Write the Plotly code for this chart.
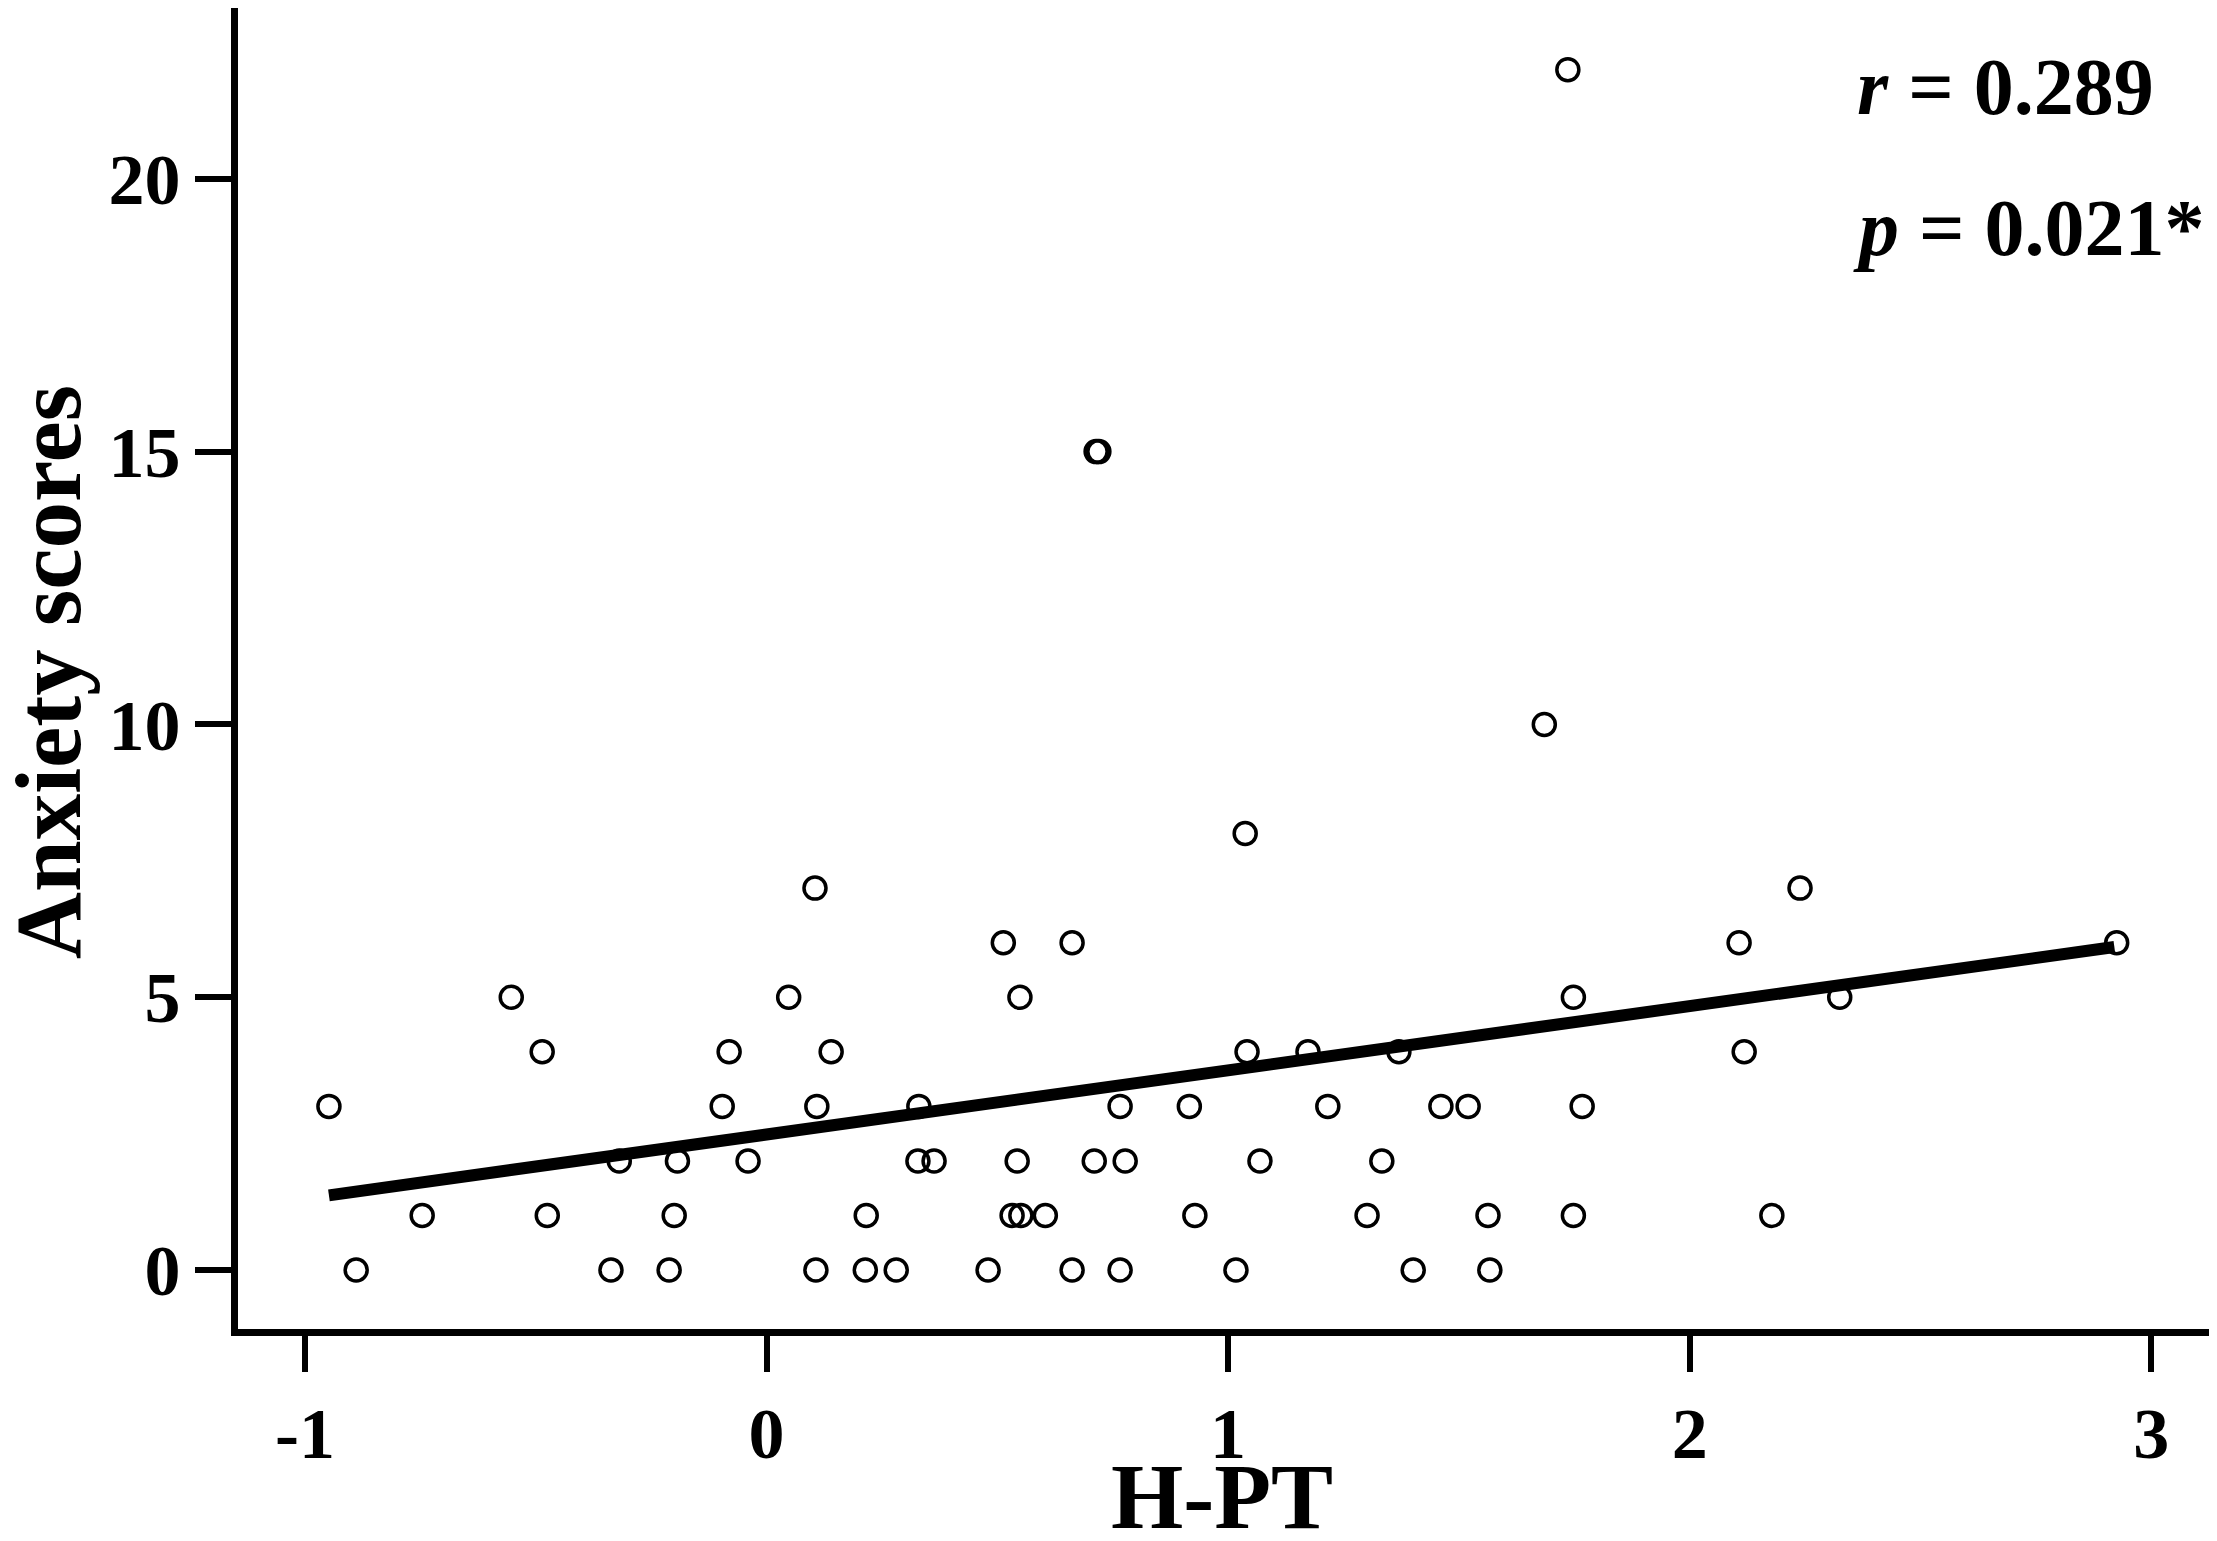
import plotly.graph_objects as go

# H-PT values grouped by their (integer) anxiety score
hpt_0 = [-0.889, -0.337, -0.211, 0.107, 0.214, 0.281, 0.480, 0.662, 0.766, 1.017, 1.401, 1.567]
hpt_1 = [-0.746, -0.475, -0.200, 0.216, 0.532, 0.551, 0.604, 0.928, 1.301, 1.563, 1.748, 2.178]
hpt_2 = [-0.319, -0.193, -0.040, 0.328, 0.363, 0.543, 0.710, 0.777, 1.069, 1.333]
hpt_3 = [-0.948, -0.096, 0.109, 0.330, 0.766, 0.916, 1.216, 1.461, 1.520, 1.767]
hpt_4 = [-0.486, -0.081, 0.140, 1.041, 1.173, 1.370, 2.118]
hpt_5 = [-0.553, 0.048, 0.549, 1.748, 2.325]
hpt_6 = [0.513, 0.662, 2.107, 2.925]
hpt_7 = [0.105, 2.239]
hpt_8 = [1.037]
hpt_10 = [1.685]
hpt_15 = [0.714, 0.720]
hpt_22 = [1.736]

groups = {0: hpt_0, 1: hpt_1, 2: hpt_2, 3: hpt_3, 4: hpt_4, 5: hpt_5,
          6: hpt_6, 7: hpt_7, 8: hpt_8, 10: hpt_10, 15: hpt_15, 22: hpt_22}

# regression line, end points
fit_x = [-0.948, 2.920]
fit_y = [1.37, 5.92]

x_ticks = [-1, 0, 1, 2, 3]
y_ticks = [0, 5, 10, 15, 20]

xs = []
ys = []
for score, vals in groups.items():
  for v in vals:
    xs.append(v)
    ys.append(score)

serif = "Times New Roman, Liberation Serif, serif"
title_font = dict(family=serif, size=93, color="black", weight="bold")

fig = go.Figure()
fig.add_trace(go.Scatter(x=xs, y=ys, mode="markers",
                         marker=dict(symbol="circle-open", size=22, color="black",
                                     line=dict(width=3.5, color="black")),
                         showlegend=False))
fig.add_trace(go.Scatter(x=fit_x, y=fit_y, mode="lines",
                         line=dict(color="black", width=12),
                         showlegend=False))

fig.add_annotation(x=2.358, y=21.68, xref="x", yref="y", xanchor="left", yanchor="middle",
                   text="<i>r</i> = 0.289", showarrow=False,
                   font=dict(family=serif, size=80, color="black", weight="bold"))
fig.add_annotation(x=2.350, y=19.10, xref="x", yref="y", xanchor="left", yanchor="middle",
                   text="<i>p</i> = 0.021*", showarrow=False,
                   font=dict(family=serif, size=80, color="black", weight="bold"))

# axis titles as annotations so they can sit closer to the page edges
fig.add_annotation(x=-0.096, y=0.497, xref="paper", yref="paper", xanchor="center", yanchor="middle",
                   text="Anxiety scores", textangle=-90, showarrow=False, font=title_font)
fig.add_annotation(x=0.499, y=-0.127, xref="paper", yref="paper", xanchor="center", yanchor="middle",
                   text="H-PT", showarrow=False, font=title_font)

axis_common = dict(showgrid=False, zeroline=False, showline=True, linecolor="black",
                   linewidth=7, ticks="outside", ticklen=36, tickwidth=6, tickcolor="black",
                   automargin=False,
                   tickfont=dict(family=serif, size=72, color="black", weight="bold"))

fig.update_xaxes(range=[-1.145, 3.125], tickvals=x_ticks, ticktext=[str(t) for t in x_ticks],
                 **axis_common)
fig.update_yaxes(range=[-1.08, 23.13], tickvals=y_ticks, ticktext=[str(t) for t in y_ticks],
                 **axis_common)

# the page body adds an 8px offset, so the figure is 8px smaller than the window
fig.update_layout(width=2209, height=1533,
                  margin=dict(l=230, r=8, t=0, b=212),
                  plot_bgcolor="white", paper_bgcolor="white")

fig.write_html("out.html")
